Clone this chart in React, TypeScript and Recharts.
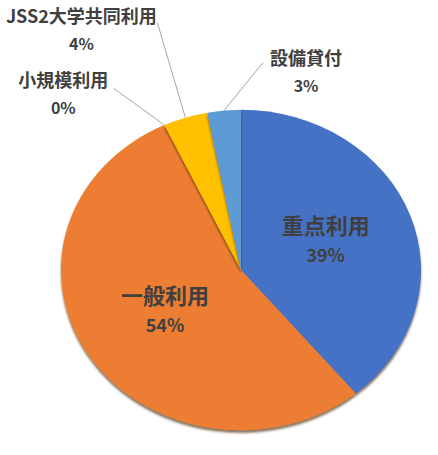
import React from "react";
import { PieChart, Pie, Cell } from "recharts";

const categories = ["重点利用", "一般利用", "小規模利用", "JSS2大学共同利用", "設備貸付"];
const shares = [39.0, 54.0, 0, 4.0, 3.0];
const colors = ["#4472C4", "#ED7D31", "#A5A5A5", "#FFC000", "#5B9BD5"];

const data = categories.map((name, i) => ({ name, value: shares[i] }));

const CX = 241;
const CY = 270;
const R = 180;
const SQUASH = 0.89; // the pie in the picture is an ellipse
const RAD = Math.PI / 180;

// where the small slices put their callouts, relative to the slice edge
const callouts: Record<string, { line: [number, number]; text: [number, number] }> = {
  小規模利用: { line: [-51, -37], text: [-101, -46] },
  JSS2大学共同利用: { line: [-28, -95], text: [-104, -103] },
  設備貸付: { line: [39, -48], text: [82, -54] },
};

const FONT = '"Noto Sans CJK JP", "Noto Sans", sans-serif';
const TEXT = "#404040";

function renderLabel(props: any) {
  const { cx, cy, midAngle, outerRadius, percent, name } = props;
  const pct = `${Math.round(percent * 100)}%`;
  const cos = Math.cos(-midAngle * RAD);
  const sin = Math.sin(-midAngle * RAD);
  const c = callouts[name];

  if (!c) {
    const r = outerRadius * 0.5;
    const x = cx + r * cos;
    const y = cy + r * sin * SQUASH;
    return (
      <g>
        <text x={x} y={y - 19} textAnchor="middle" dominantBaseline="central" fill={TEXT} fontSize={22} fontWeight={700} fontFamily={FONT}>
          {name}
        </text>
        <text x={x} y={y + 11} textAnchor="middle" dominantBaseline="central" fill={TEXT} fontSize={18} fontWeight={700} fontFamily={FONT}>
          {pct}
        </text>
      </g>
    );
  }

  const ex = cx + outerRadius * cos;
  const ey = cy + outerRadius * sin * SQUASH;
  const tx = ex + c.text[0];
  const ty = ey + c.text[1];
  return (
    <g>
      <line x1={ex} y1={ey} x2={ex + c.line[0]} y2={ey + c.line[1]} stroke="#a6a6a6" strokeWidth={1} />
      <text x={tx} y={ty} textAnchor="middle" dominantBaseline="central" fill={TEXT} fontSize={18} fontWeight={700} fontFamily={FONT}>
        {name}
      </text>
      <text x={tx} y={ty + 28} textAnchor="middle" dominantBaseline="central" fill={TEXT} fontSize={16} fontWeight={700} fontFamily={FONT}>
        {pct}
      </text>
    </g>
  );
}

export default function App(): React.ReactElement {
  return (
    <div style={{ position: "absolute", left: 0, top: 0, width: 438, height: 455, background: "#fff" }}>
      <style>{`
        .recharts-pie-sector {
          transform: scaleY(${SQUASH});
          transform-origin: ${CX}px ${CY}px;
          filter: url(#pieShadow);
        }
      `}</style>
      <svg width={0} height={0} style={{ position: "absolute" }}>
        <defs>
          <filter id="pieShadow" x="-10%" y="-10%" width="120%" height="130%">
            <feDropShadow dx="0" dy="3" stdDeviation="1" floodColor="#462300" floodOpacity="0.65" />
          </filter>
        </defs>
      </svg>
      <PieChart width={438} height={455} margin={{ top: 0, right: 0, bottom: 0, left: 0 }}>
        <Pie
          data={data}
          dataKey="value"
          nameKey="name"
          cx={CX}
          cy={CY}
          outerRadius={R}
          startAngle={90}
          endAngle={-270}
          stroke="none"
          label={renderLabel}
          labelLine={false}
          isAnimationActive={false}
        >
          {data.map((d, i) => (
            <Cell key={d.name} fill={colors[i]} />
          ))}
        </Pie>
      </PieChart>
    </div>
  );
}
